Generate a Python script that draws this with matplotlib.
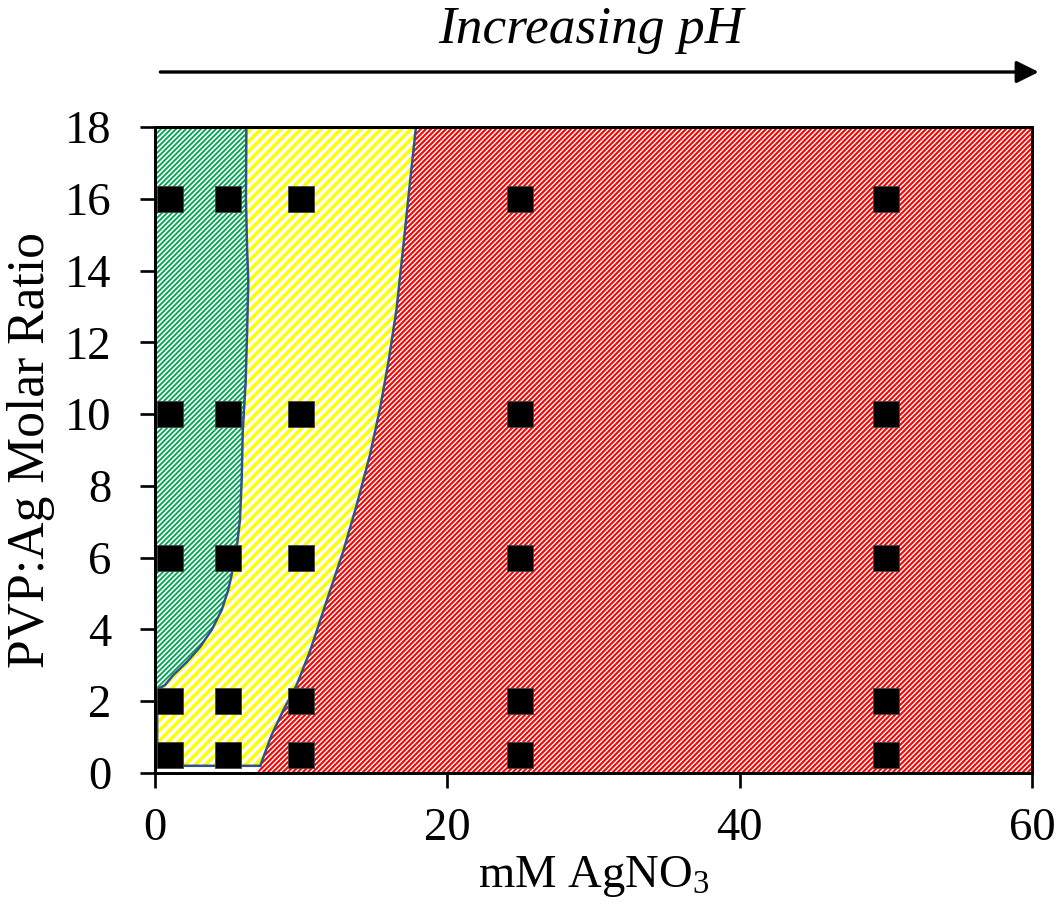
import matplotlib
matplotlib.use("Agg")
import numpy as np
import matplotlib.pyplot as plt
from matplotlib.patches import Polygon
from matplotlib.collections import LineCollection

plt.rcParams['font.family'] = ['Liberation Serif', 'DejaVu Serif']
plt.rcParams['mathtext.fontset'] = 'custom'
plt.rcParams['mathtext.rm'] = 'Liberation Serif'
plt.rcParams['mathtext.it'] = 'Liberation Serif:italic'

# sample grid (mM AgNO3 vs PVP:Ag ratio)
conc = [1, 5, 10, 25, 50]
ratio = [0.5, 2, 6, 10, 16]

# green / yellow boundary, read from top to bottom
green_x = [6.25, 6.22, 6.3, 6.38, 6.3, 6.2, 6.0, 5.93, 5.81, 5.63, 5.36,
           5.01, 4.56, 3.88, 3.08, 2.17, 1.25, 0.68, 0.34]
green_y = [18, 16, 14.6, 13.7, 12.3, 10.9, 9.5, 8.16, 7.05, 6.41, 5.74,
           5.10, 4.54, 3.99, 3.51, 3.09, 2.73, 2.45, 2.37]

# yellow / red boundary, read from bottom to top
red_x = [7.2, 7.98, 8.78, 9.69, 10.6, 11.74, 12.88, 13.8, 14.71, 15.39,
         15.96, 16.53, 16.99, 17.44, 17.85]
red_y = [0.2, 1.06, 1.75, 2.45, 3.39, 4.79, 6.18, 7.47, 8.87, 10.15,
         11.43, 12.94, 14.69, 16.44, 18]

# lower-left corner of the yellow band
yellow_left = 0.15
yellow_bottom = 0.2

xmax, ymax = 60, 18

W, H = 1061 / 120, 908 / 120
fig = plt.figure(figsize=(W, H), dpi=120)
ax = fig.add_axes([0.1461, 0.1487, 0.8266, 0.7114])
ax.set_xlim(0, xmax)
ax.set_ylim(0, ymax)
ax.set_autoscale_on(False)


def hatched(pts, color, period_px, lw):
    # white region with 45 degree stripes clipped to it
    p = Polygon(pts, closed=True, facecolor='white', edgecolor='none', zorder=1)
    ax.add_patch(p)
    step = period_px / 120
    segs = [[(c, 0), (c + H, H)] for c in np.arange(-H, W, step)]
    lc = LineCollection(segs, colors=color, linewidths=lw,
                        transform=fig.dpi_scale_trans, zorder=1.5)
    ax.add_collection(lc, autolim=False)
    lc.set_clip_path(p)
    return p


# red region: everything right of the yellow/red curve
red_pts = [(red_x[0] - 0.2, 0)] + list(zip(red_x, red_y)) + [(xmax, ymax), (xmax, 0)]
hatched(red_pts, '#ff0000', 5, 1.25)

# yellow band between the two curves
yellow_pts = (list(zip(green_x, green_y))
              + [(yellow_left, green_y[-1] - 0.3), (yellow_left, yellow_bottom)]
              + list(zip(red_x, red_y)))
hatched(yellow_pts, '#ffff00', 10, 2.1)

# green region at low concentration
green_pts = [(0, ymax)] + list(zip(green_x, green_y)) + [(0, green_y[-1])]
hatched(green_pts, '#00a650', 5, 1.1)

# outlines
outline = '#2f528f'
ax.plot(green_x, green_y, color=outline, lw=1.5, zorder=2)
ax.plot([green_x[-1], yellow_left, yellow_left, red_x[0]],
        [green_y[-1], green_y[-1] - 0.3, yellow_bottom, yellow_bottom],
        color=outline, lw=1.5, zorder=2)
ax.plot(red_x, red_y, color=outline, lw=1.5, zorder=2)

# sample markers
for y in ratio:
    ax.plot(conc, [y] * len(conc), 's', color='black', ms=15.5,
            markeredgecolor='#444444', markeredgewidth=0.5, zorder=3,
            clip_on=False)

ax.set_xticks([0, 20, 40, 60])
ax.set_yticks(range(0, 19, 2))
ax.tick_params(labelsize=28, width=1.6, length=9, direction='out')
ax.tick_params(axis='x', pad=12)
ax.tick_params(axis='y', pad=17)
for s in ax.spines.values():
    s.set_linewidth(1.8)
    s.set_zorder(4)

ax.set_xlabel('mM AgNO$_3$', fontsize=28, labelpad=2)
ax.set_ylabel('PVP:Ag Molar Ratio', fontsize=31, labelpad=6)

# pH arrow above the plot
fig.text(591 / 1061, 1 - 30 / 908, 'Increasing pH', fontsize=32,
         style='italic', ha='center', va='center')
ax.annotate('', xy=(1042 / 1061, 1 - 72 / 908), xytext=(157 / 1061, 1 - 72 / 908),
            xycoords='figure fraction', textcoords='figure fraction',
            arrowprops=dict(arrowstyle='-|>', color='black', lw=2,
                            mutation_scale=28))

fig.savefig('out.png', dpi=120)
